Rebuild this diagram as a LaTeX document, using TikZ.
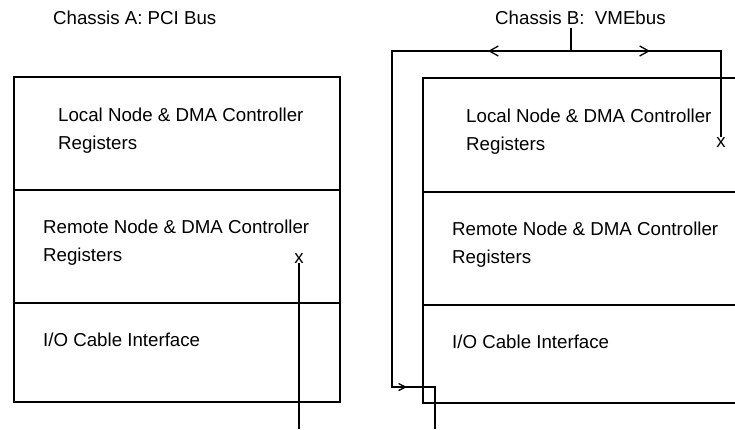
\documentclass[tikz,border=0pt]{standalone}
\usepackage{fontspec}
\setmainfont{Liberation Sans}
\usetikzlibrary{arrows.meta}
\usetikzlibrary{positioning}
\tikzset{
	regbox/.style={rectangle, draw, line width=2pt, outer sep=0pt, inner sep=0pt},
	regtext/.style={anchor=base west, align=left, inner sep=0pt, font=\fontsize{18.7}{28}\selectfont},
	title/.style={anchor=base west, inner sep=0pt, font=\fontsize{18.7}{28}\selectfont},
	pin/.style={inner sep=0pt, anchor=base, font=\fontsize{18.7}{28}\selectfont},
	wire/.style={draw, line width=2pt},
	flow/.style={draw, line width=2pt, -{Straight Barb[length=9pt, width=10pt, line width=1.3pt]}},
	smallflow/.style={draw, line width=2pt, -{Straight Barb[length=7pt, width=7pt, line width=1.3pt]}}
}
\begin{document}
\begin{tikzpicture}[x=1pt, y=-1pt]

\useasboundingbox (0,0) rectangle (735,429);

% chassis A
\node[title] (titlea) at (53,24) {Chassis A: PCI Bus};

\node[regbox, anchor=north west, minimum width=326pt, minimum height=113pt] (alocal) at (14,77) {};
\node[regbox, below=0pt of alocal, minimum width=326pt, minimum height=113pt] (aremote) {};
\node[regbox, below=0pt of aremote, minimum width=326pt, minimum height=99pt] (aio) {};

\node[regtext] (alocaltext) at (58,149) {Local Node \& DMA Controller\\Registers};
\node[regtext] (aremotetext) at (43,261) {Remote Node \& DMA Controller\\Registers};
\node[regtext] (aiotext) at (43,346) {I/O Cable Interface};

\node[pin] (xa) at (299,263) {x};
\coordinate (acable) at (299,429);

% chassis B
\node[title] (titleb) at (495,24) {Chassis B:\ \ VMEbus};

\node[regbox, anchor=north west, minimum width=340pt, minimum height=114pt] (blocal) at (423,78) {};
\node[regbox, below=0pt of blocal, minimum width=340pt, minimum height=113pt] (bremote) {};
\node[regbox, below=0pt of bremote, minimum width=340pt, minimum height=98pt] (bio) {};

\node[regtext] (blocaltext) at (466,150) {Local Node \& DMA Controller\\Registers};
\node[regtext] (bremotetext) at (452,263) {Remote Node \& DMA Controller\\Registers};
\node[regtext] (biotext) at (452,348) {I/O Cable Interface};

\node[pin] (xb) at (721,147) {x};
\coordinate (vme) at (571,28);
\coordinate (tee) at (571,51);
\coordinate (bcable) at (435,429);
\coordinate (bturn) at (392,387);

% connections
\draw [wire] (xa.south) -- (acable);
\draw [wire] (vme) -- (tee);
\draw [wire] (tee) -| (xb.north);
\draw [wire] (tee) -| (bturn) -| (bcable);
\draw [flow] (tee) -- ++(-83,0);
\draw [flow] (tee) -- ++(79,0);
\draw [smallflow] (bturn) -- ++(15,0);

\end{tikzpicture}
\end{document}
